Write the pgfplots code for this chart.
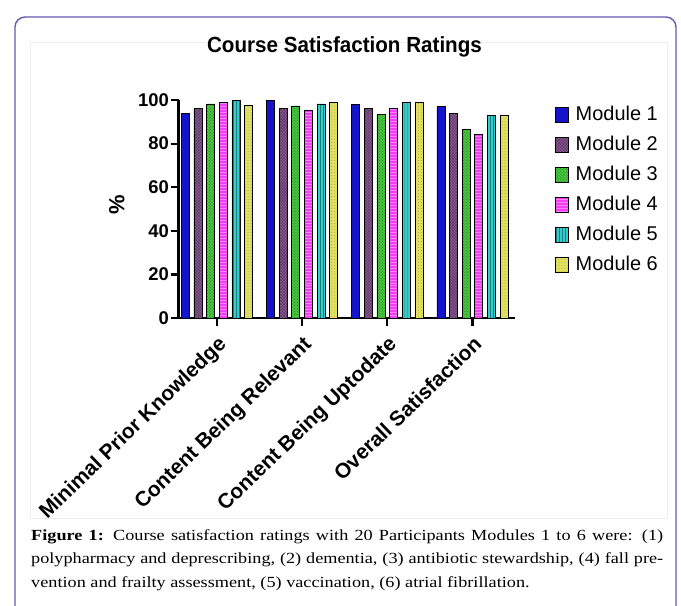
\documentclass[border=0pt]{standalone}
\usepackage{pgfplots}
\usepackage{pgfplotstable}
\pgfplotsset{compat=1.18}
\usetikzlibrary{patterns}
\usepackage{fontspec}
\setmainfont{Liberation Sans}
\newfontfamily\capfont[FakeStretch=1.18]{Liberation Serif}
\newfontfamily\titlefont[FakeStretch=0.94]{Liberation Sans}
\definecolor{mA}{RGB}{20,20,205}
\definecolor{mB}{RGB}{145,90,155}
\definecolor{mC}{RGB}{70,200,60}
\definecolor{mD}{RGB}{245,60,245}
\definecolor{mE}{RGB}{50,205,205}
\definecolor{mF}{RGB}{225,225,95}
\definecolor{frm}{RGB}{100,90,175}

\pgfplotstableread{
x m1 m2 m3 m4 m5 m6
0 94 96.3 98.2 98.8 100 97.8
1 100 96.3 97.3 95.1 98.2 98.9
2 98 96.3 93.3 96.2 99 99
3 97 94 86.4 84.4 93 93
}\datatable

\begin{document}
\begin{tikzpicture}
\path[use as bounding box] (0,0) rectangle (681bp,-606bp);
\fill[white] (0,0) rectangle (681bp,-606bp);
\draw[frm, line width=1.4bp, rounded corners=10bp] (15bp,-17bp) rectangle (676bp,-640bp);
\draw[black!7, line width=0.8bp] (30bp,-42bp) rectangle (667bp,-518bp);

\node[anchor=base, inner sep=0pt, font=\titlefont\bfseries\fontsize{22}{24}\selectfont] at (344.5bp,-52.5bp) {Course Satisfaction Ratings};

\begin{axis}[
  at={(178.5bp,-318bp)}, anchor=south west,
  scale only axis, width=336.5bp, height=218bp,
  xmin=-0.45, xmax=3.5, ymin=0, ymax=100,
  ybar=4.66bp, bar width=8bp,
  axis x line*=bottom, axis y line*=left,
  axis line style={-, line width=2.7bp, black},
  xtick={0,1,2,3},
  xticklabels={Minimal Prior Knowledge, Content Being Relevant, Content Being Uptodate, Overall Satisfaction},
  ytick={0,20,40,60,80,100},
  tick align=outside, major tick length=8bp,
  tick style={line width=2.2bp, black},
  /pgf/number format/assume math mode=true,
  xticklabel style={rotate=44, anchor=north east, inner sep=1bp, xshift=-5bp, yshift=-5bp, font=\fontsize{21}{22}\selectfont\bfseries},
  yticklabel style={inner sep=1.5bp, font=\fontsize{18.5}{19}\selectfont\bfseries},
  ylabel={\%},
  ylabel style={at={(axis description cs:-0.183,0.52)}, anchor=center, rotate=0, font=\fontsize{22}{23}\selectfont\bfseries},
  legend style={at={(axis description cs:1.119,1.0)}, anchor=north west, draw=none, fill=none, inner sep=0pt,
     font=\fontsize{20}{21}\selectfont,
     nodes={inner xsep=7bp, inner ysep=0pt, text height=20bp, text depth=10bp, anchor=base west}},
  legend image code/.code={\draw[#1, line width=0.5bp] (0bp,-2bp) rectangle (13bp,13bp);},
  legend cell align=left,
  clip=false,
]
\addplot[draw=black, line width=0.5bp, fill=mA] table[x=x, y=m1] {\datatable};
\addplot[draw=black, line width=0.5bp, fill=mB, postaction={pattern=crosshatch, pattern color=mB!60!black}] table[x=x, y=m2] {\datatable};
\addplot[draw=black, line width=0.5bp, fill=mC, postaction={pattern=crosshatch dots, pattern color=mC!55!black}] table[x=x, y=m3] {\datatable};
\addplot[draw=black, line width=0.5bp, fill=mD, postaction={pattern=horizontal lines, pattern color=mD!65!white}] table[x=x, y=m4] {\datatable};
\addplot[draw=black, line width=0.5bp, fill=mE, postaction={pattern=vertical lines, pattern color=mE!60!black}] table[x=x, y=m5] {\datatable};
\addplot[draw=black, line width=0.5bp, fill=mF, postaction={pattern=dots, pattern color=mF!70!black}] table[x=x, y=m6] {\datatable};
\legend{Module 1, Module 2, Module 3, Module 4, Module 5, Module 6}
\end{axis}

\node[anchor=north west, inner sep=0pt, text width=632bp, align=justify, font=\capfont\fontsize{15.5}{23.5}\selectfont] at (31bp,-529.5bp) {\textbf{Figure 1:} Course satisfaction ratings with 20 Participants Modules 1 to 6 were: (1)\linebreak polypharmacy and deprescribing, (2) dementia, (3) antibiotic stewardship, (4) fall pre-\linebreak vention and frailty assessment, (5) vaccination, (6) atrial fibrillation.};
\end{tikzpicture}
\end{document}
